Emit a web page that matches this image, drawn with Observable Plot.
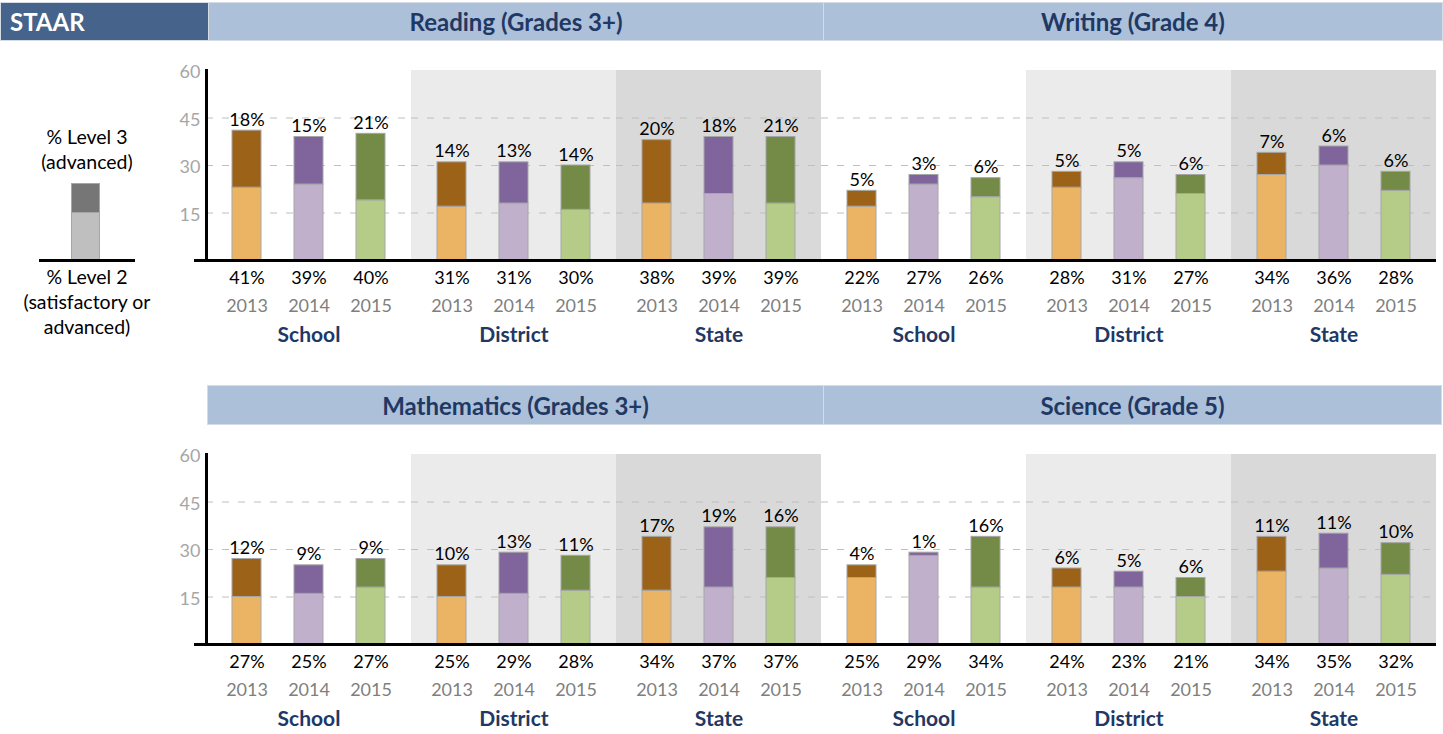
<!DOCTYPE html>
<html>
<head>
<meta charset="utf-8">
<script src="https://cdn.jsdelivr.net/npm/d3@7"></script>
<script src="https://cdn.jsdelivr.net/npm/@observablehq/plot@0.6"></script>
<style>
  html, body { margin: 0; padding: 0; background: #fff; }
  body { width: 1443px; height: 734px; position: relative; overflow: hidden; font-family: Lato, "Open Sans", sans-serif; }
  .hdr { position: absolute; box-sizing: border-box; background: #ACC0DA; border: 1px solid #D6DCE4;
         color: #1F3864; font-weight: 700; font-size: 24px; display: flex; align-items: center; justify-content: center; }
  .staar { position: absolute; box-sizing: border-box; background: #46648B; border: 1px solid #D6DCE4; color: #fff;
           font-weight: 700; font-size: 24px; display: flex; align-items: center; padding-left: 9px; }
  .legtxt { position: absolute; left: 0; width: 174px; text-align: center; font-size: 19.5px; color: #000; line-height: 25px; }
  .row { position: absolute; left: 0; }
</style>
</head>
<body>
<div id="root"></div>
<script>
// ---- data ----
const years = ["2013", "2014", "2015"];
const groups = ["School", "District", "State"];
const subjects = ["Reading (Grades 3+)", "Writing (Grade 4)", "Mathematics (Grades 3+)", "Science (Grade 5)"];
const yTicks = [15, 30, 45, 60];

// % Level 2 (satisfactory or advanced): School 2013-15, District 2013-15, State 2013-15
const readingLevel2 = [41, 39, 40, 31, 31, 30, 38, 39, 39];
const readingLevel3 = [18, 15, 21, 14, 13, 14, 20, 18, 21];
const writingLevel2 = [22, 27, 26, 28, 31, 27, 34, 36, 28];
const writingLevel3 = [5, 3, 6, 5, 5, 6, 7, 6, 6];
const mathLevel2 = [27, 25, 27, 25, 29, 28, 34, 37, 37];
const mathLevel3 = [12, 9, 9, 10, 13, 11, 17, 19, 16];
const scienceLevel2 = [25, 29, 34, 24, 23, 21, 34, 35, 32];
const scienceLevel3 = [4, 1, 16, 6, 5, 6, 11, 11, 10];

// colours
const lightColors = ["#EBB464", "#C0B0CC", "#B5CC88"];
const darkColors = ["#9C6318", "#80659C", "#748B47"];
const shadeColors = {District: "#EBEBEB", State: "#D9D9D9"};

function rowPlot(panels) {
  const keys = [];
  const rows = [];
  const groupRows = [];
  panels.forEach(p => {
    groups.forEach((g, gi) => {
      const key = p.name + "|" + g;
      keys.push(key);
      groupRows.push({key, group: g, lo: 0, hi: yTicks[yTicks.length - 1]});
      years.forEach((y, yi) => {
        const i = gi * 3 + yi;
        rows.push({key, group: g, year: y, l2: p.l2[i], l3: p.l3[i], base: p.l2[i] - p.l3[i],
                   light: lightColors[yi], dark: darkColors[yi]});
      });
    });
  });
  const shade = groupRows.filter(d => d.group !== "School").map(d => ({...d, fill: shadeColors[d.group]}));
  const firstFacet = [{key: keys[0], v: 0}];
  const baseRows = keys.map(k => ({key: k, v: 0}));

  return Plot.plot({
    width: 1443,
    height: 305,
    marginLeft: 205,
    marginRight: 6,
    marginTop: 25,
    marginBottom: 90,
    style: {fontFamily: "Lato, 'Open Sans', sans-serif", fontSize: "18px", background: "transparent", overflow: "visible"},
    fx: {domain: keys, padding: 0, axis: null, label: null},
    x: {domain: years, paddingInner: 0.536, paddingOuter: 0.408, axis: null},
    y: {domain: [0, yTicks[yTicks.length - 1]], axis: null},
    marks: [
      Plot.barY(shade, {fx: "key", y1: "lo", y2: "hi", fill: "fill"}),
      Plot.ruleY(yTicks.slice(0, -1), {stroke: "#BFBFBF", strokeWidth: 1, strokeDasharray: "7,9"}),
      Plot.barY(rows, {fx: "key", x: "year", y1: 0, y2: "base", fill: "light", stroke: "#A6A6A6", strokeWidth: 1}),
      Plot.barY(rows, {fx: "key", x: "year", y1: "base", y2: "l2", fill: "dark", stroke: "#A6A6A6", strokeWidth: 1}),
      Plot.ruleY(baseRows, {fx: "key", y: "v", stroke: "#000", strokeWidth: 3}),
      Plot.ruleY(firstFacet, {fx: "key", y: "v", stroke: "#000", strokeWidth: 3, insetLeft: -12}),
      Plot.axisY({ticks: yTicks, tickSize: 0, tickPadding: 6, fill: "#A6A6A6", fontSize: 18, label: null, dy: 2}),
      Plot.frame({anchor: "left", facetAnchor: "left", stroke: "#000", strokeWidth: 3}),
      Plot.text(rows, {fx: "key", x: "year", y: "l2", text: d => d.l3 + "%", dy: -5, lineAnchor: "bottom", fill: "#000", fontSize: 18}),
      Plot.text(rows, {fx: "key", x: "year", frameAnchor: "bottom", lineAnchor: "middle", dy: 18, text: d => d.l2 + "%", fill: "#000", fontSize: 18}),
      Plot.text(rows, {fx: "key", x: "year", frameAnchor: "bottom", lineAnchor: "middle", dy: 46, text: "year", fill: "#7F7F7F", fontSize: 18}),
      Plot.text(groupRows, {fx: "key", frameAnchor: "bottom", lineAnchor: "middle", dy: 75, text: "group", fill: "#1F3864", fontWeight: 700, fontSize: 21})
    ]
  });
}

const root = document.getElementById("root");
function addDiv(cls, text, css) {
  const d = document.createElement("div");
  d.className = cls;
  if (text != null) d.textContent = text;
  Object.assign(d.style, css);
  root.appendChild(d);
  return d;
}

// headers
addDiv("staar", "STAAR", {left: "0px", top: "2px", width: "209px", height: "39px"});
addDiv("hdr", subjects[0], {left: "208px", top: "2px", width: "616px", height: "39px"});
addDiv("hdr", subjects[1], {left: "823px", top: "2px", width: "620px", height: "39px"});
addDiv("hdr", subjects[2], {left: "207px", top: "385px", width: "617px", height: "40px"});
addDiv("hdr", subjects[3], {left: "823px", top: "385px", width: "619px", height: "40px"});

// legend
addDiv("legtxt", null, {top: "124px"}).innerHTML = "% Level 3<br>(advanced)";
addDiv("legtxt", null, {top: "264px"}).innerHTML = "% Level 2<br>(satisfactory or<br>advanced)";
addDiv("", null, {position: "absolute", left: "71px", top: "183px", width: "29px", height: "30px", boxSizing: "border-box", background: "#767676", border: "1px solid #A6A6A6"});
addDiv("", null, {position: "absolute", left: "71px", top: "212px", width: "29px", height: "48px", boxSizing: "border-box", background: "#BFBFBF", border: "1px solid #A6A6A6"});
addDiv("", null, {position: "absolute", left: "39px", top: "259px", width: "96px", height: "3px", background: "#000"});

// chart rows
const row1 = addDiv("row", null, {top: "45px"});
row1.appendChild(rowPlot([
  {name: "Reading", l2: readingLevel2, l3: readingLevel3},
  {name: "Writing", l2: writingLevel2, l3: writingLevel3}
]));
const row2 = addDiv("row", null, {top: "429px"});
row2.appendChild(rowPlot([
  {name: "Mathematics", l2: mathLevel2, l3: mathLevel3},
  {name: "Science", l2: scienceLevel2, l3: scienceLevel3}
]));
</script>
</body>
</html>
